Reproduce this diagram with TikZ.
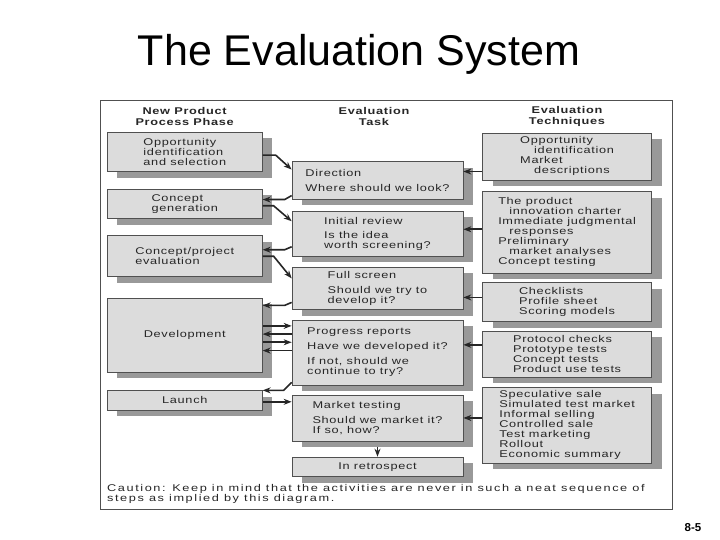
\documentclass[tikz,border=0pt]{standalone}
\usepackage{fontspec}
\setmainfont{Liberation Sans}[FakeStretch=1.3,LetterSpace=7]
\newfontfamily\titlefont{Liberation Sans}
\usetikzlibrary{arrows.meta,positioning,shadows}
\definecolor{boxgray}{HTML}{DCDCDC}
\definecolor{shadegray}{HTML}{999999}
\definecolor{edgegray}{HTML}{505050}
\tikzset{
  box/.style={
    draw=edgegray,
    fill=boxgray,
    line width=0.7pt,
    align=left,
    inner sep=2pt,
    text=black!85,
    font=\fontsize{9.8}{10}\selectfont,
    drop shadow={shadow xshift=10pt, shadow yshift=-6pt, fill=shadegray, opacity=1}
  },
  link/.style={
    -{Stealth[length=8pt,width=6pt]}, line width=1.6pt, draw=black!85}
}

\begin{document}
\begin{tikzpicture}[
    x=1pt, y=-1pt,
    phase/.style={box, minimum width=155pt},
    task/.style={box, minimum width=171pt},
    tech/.style={box, minimum width=168.8pt},
    head/.style={align=center, text=black!85, font=\bfseries\fontsize{9.8}{11}\selectfont}
]
\useasboundingbox (0,0) rectangle (720,540);

\node[font=\titlefont\fontsize{43}{43}\selectfont, anchor=base] (title) at (359,65.7) {The Evaluation System};
\node[draw=edgegray, line width=0.8pt, minimum width=572pt, minimum height=409pt, inner sep=0pt] (panel) at (386,304.5) {};

% --- Column heads ---
\node[head] (hphase) at (184.6,116.5) {New Product\\Process Phase};
\node[head] (htask)  at (374,116.5)   {Evaluation\\Task};
\node[head] (htech)  at (567,116.5)   {Evaluation\\Techniques};

% --- New product process phases (left) ---
\node[phase, minimum height=39.5pt, anchor=north] (opp) at (184.8,132) {Opportunity\\identification\\and selection};
\node[phase, minimum height=29.5pt, below=16.5pt of opp]  (cgen)   {Concept\\generation};
\node[phase, minimum height=41pt,   below=16.5pt of cgen] (ceval)  {Concept/project\\evaluation};
\node[phase, minimum height=74pt,   below=21pt of ceval]  (dev)    {Development};
\node[phase, minimum height=19.4pt, below=17.6pt of dev]  (launch) {Launch};

% --- Evaluation tasks (middle) ---
\node[task, minimum height=37.6pt, anchor=north] (dir) at (377.5,161.4) {Direction\\[4.5pt]Where should we look?};
\node[task, minimum height=45.4pt, below=11pt of dir]   (irev)  {Initial review\\[4.5pt]Is the idea\\worth screening?};
\node[task, minimum height=42.5pt, below=10pt of irev]  (fscr)  {Full screen\\[4.5pt]Should we try to\\develop it?};
\node[task, minimum height=65pt,   below=9.5pt of fscr] (prog)  {Progress reports\\[5.5pt]Have we developed it?\\[5pt]If not, should we\\continue to try?};
\node[task, minimum height=46pt,   below=9.4pt of prog] (mkt)   {Market testing\\[5pt]Should we market it?\\If so, how?};
\node[task, minimum height=19.6pt, below=15.4pt of mkt, align=center] (retro) {In retrospect};

% --- Evaluation techniques (right) ---
\node[tech, minimum height=47pt, anchor=north] (opptech) at (567.1,132.6) {Opportunity\\\hspace*{14pt}identification\\Market\\\hspace*{14pt}descriptions};
\node[tech, minimum height=81.4pt, below=11pt of opptech]   (charter)    {The product\\\hspace*{11pt}innovation charter\\Immediate judgmental\\\hspace*{11pt}responses\\Preliminary\\\hspace*{11pt}market analyses\\Concept testing};
\node[tech, minimum height=39pt,   below=9pt of charter]    (screentech) {Checklists\\Profile sheet\\Scoring models};
\node[tech, minimum height=46pt,   below=9pt of screentech] (devtech)    {Protocol checks\\Prototype tests\\Concept tests\\Product use tests};
\node[tech, minimum height=75.4pt, below=9.6pt of devtech]  (launchtech) {Speculative sale\\Simulated test market\\Informal selling\\Controlled sale\\Test marketing\\Rollout\\Economic summary};

% --- Phase to task ---
\draw[link] ([yshift=-3pt]opp.east)  -- ++(13,0) -- ([yshift=11pt]dir.west);
\draw[link] ([yshift=-2pt]cgen.east) -- ++(11,0) -- ([yshift=12.5pt]irev.west);
\draw[link] (ceval.east)             -- ++(11,0) -- ([yshift=10pt]fscr.west);

% --- Task back to phase ---
\draw[link] ([yshift=-15pt]dir.west)  -- ++(-7,4) coordinate (k1) -- (k1 -| cgen.east);
\draw[link] ([yshift=-13pt]irev.west) -- ++(-7,3) coordinate (k2) -- (k2 -| ceval.east);
\draw[link] ([yshift=-14pt]fscr.west) -- ++(-7,3) coordinate (k3) -- (k3 -| dev.east);
\draw[link] ([yshift=-30pt]prog.west) -- ++(-8,8) coordinate (k4) -- (k4 -| launch.east);

% --- Development <-> progress reports ---
\draw[link] (dev.7) -- (dev.7 -| prog.west);
\draw[link] (dev.1 -| prog.west) -- (dev.1);
\draw[link] (dev.-5) -- (dev.-5 -| prog.west);
\draw[link] (dev.-11 -| prog.west) -- (dev.-11);

\draw[link] (launch.-1) -- (launch.-1 -| mkt.west);
\draw[link] ([yshift=-6pt]mkt.south) -- (retro.north);

% --- Technique to task ---
\draw[link] (opptech.west |- dir.6)     -- (dir.6);
\draw[link] (charter.west |- irev.3)    -- (irev.3);
\draw[link] (screentech.west |- fscr.-6) -- (fscr.-6);
\draw[link] (devtech.west |- prog.5)    -- (prog.5);
\draw[link] (launchtech.west |- mkt.east) -- (mkt.east);

\node[anchor=north west, align=left, inner sep=0pt, text=black!85, font=\fontsize{9.8}{10.4}\selectfont\addfontfeature{LetterSpace=16}] (caution) at (107,484)
  {Caution: Keep in mind that the activities are never in such a neat sequence of\\steps as implied by this diagram.};

\node[font=\titlefont\bfseries\fontsize{11.5}{12}\selectfont] (pagenum) at (693,527.5) {8-5};
\end{tikzpicture}
\end{document}
